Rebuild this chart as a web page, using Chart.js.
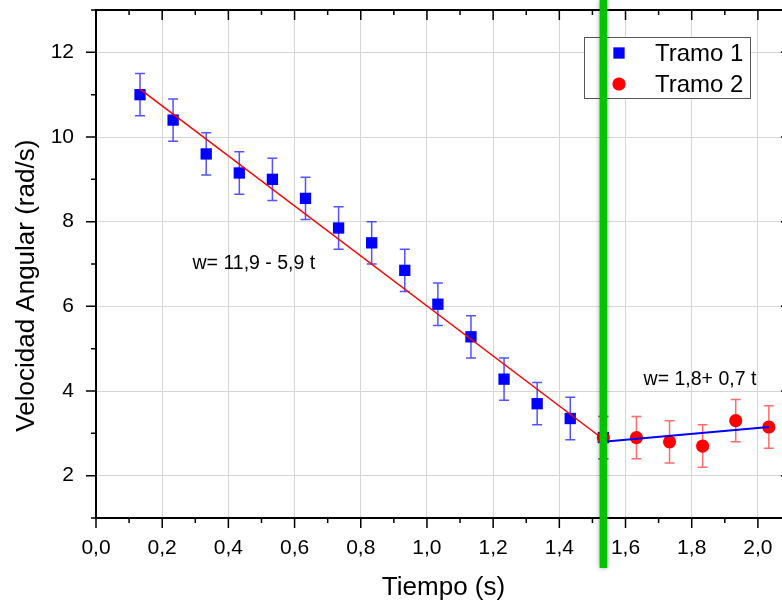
<!DOCTYPE html>
<html>
<head>
<meta charset="utf-8">
<script src="https://cdn.jsdelivr.net/npm/chart.js@4.4.1/dist/chart.umd.min.js"></script>
<style>
  html, body { margin: 0; padding: 0; background: #fff; overflow: hidden; }
  #wrap { width: 800px; height: 603px; }
</style>
</head>
<body>
<div id="wrap"><canvas id="chart" width="800" height="603"></canvas></div>
<script>
// Tramo 1 (blue squares)
const tramo1T = [0.133, 0.233, 0.333, 0.433, 0.533, 0.633, 0.733, 0.833, 0.933, 1.033, 1.133, 1.233, 1.333, 1.433, 1.533];
const tramo1W = [11.0, 10.4, 9.6, 9.15, 9.0, 8.55, 7.85, 7.5, 6.85, 6.05, 5.28, 4.28, 3.7, 3.35, 2.9];
const tramo1Err = [0.5, 0.5, 0.5, 0.5, 0.5, 0.5, 0.5, 0.5, 0.5, 0.5, 0.5, 0.5, 0.5, 0.5, 0.5];

// Tramo 2 (red circles)
const tramo2T = [1.533, 1.633, 1.733, 1.833, 1.933, 2.033];
const tramo2W = [2.9, 2.9, 2.8, 2.7, 3.3, 3.15];
const tramo2Err = [0.5, 0.5, 0.5, 0.5, 0.5, 0.5];

// fitted lines (end points)
const fit1T = [0.133, 1.533];
const fit1W = [11.13, 2.86];
const fit2T = [1.533, 2.033];
const fit2W = [2.8, 3.15];

const xTicks = [0, 0.2, 0.4, 0.6, 0.8, 1.0, 1.2, 1.4, 1.6, 1.8, 2.0];
const yTicks = [2, 4, 6, 8, 10, 12];
const splitT = 1.533;

const fitLabels = ['w= 11,9 - 5,9 t', 'w= 1,8+ 0,7 t'];
const fitLabelAt = [[0.477, 7.0], [1.825, 4.26]];

const FONT = "'Liberation Sans', Arial, sans-serif";
const pts = (xs, ys) => xs.map((x, i) => ({ x: x, y: ys[i] }));

const errorBars = {
    id: 'errorBars',
    beforeDatasetsDraw(chart) {
        const { ctx, scales: { x, y } } = chart;
        chart.data.datasets.forEach(ds => {
            if (!ds.errors) return;
            ctx.save();
            ctx.strokeStyle = ds.errorColor;
            ctx.lineWidth = 1.5;
            ctx.beginPath();
            ds.data.forEach((p, i) => {
                const px = x.getPixelForValue(p.x);
                const top = y.getPixelForValue(p.y + ds.errors[i]);
                const bot = y.getPixelForValue(p.y - ds.errors[i]);
                ctx.moveTo(px, top); ctx.lineTo(px, bot);
                ctx.moveTo(px - 5, top); ctx.lineTo(px + 5, top);
                ctx.moveTo(px - 5, bot); ctx.lineTo(px + 5, bot);
            });
            ctx.stroke();
            ctx.restore();
        });
    }
};

const frame = {
    id: 'frame',
    afterDatasetsDraw(chart) {
        const { ctx, chartArea: a, scales: { x, y } } = chart;
        ctx.save();
        ctx.strokeStyle = '#000';
        ctx.lineWidth = 2;
        ctx.beginPath();
        ctx.moveTo(a.left - 1, a.top);
        ctx.lineTo(a.right, a.top);
        ctx.lineTo(a.right, a.bottom);
        ctx.stroke();

        ctx.lineWidth = 1.5;
        ctx.beginPath();
        for (let i = 0; i <= 21; i++) {
            const px = x.getPixelForValue(i / 10);
            const len = i % 2 === 0 ? 10 : 5;
            ctx.moveTo(px, a.bottom); ctx.lineTo(px, a.bottom + len);
            ctx.moveTo(px, a.top); ctx.lineTo(px, a.top + len);
        }
        for (let w = 1; w <= 13; w++) {
            const py = y.getPixelForValue(w);
            const len = w % 2 === 0 ? 10 : 5;
            ctx.moveTo(a.left, py); ctx.lineTo(a.left - len, py);
            ctx.moveTo(a.right, py); ctx.lineTo(a.right - len, py);
        }
        ctx.stroke();
        ctx.restore();
    }
};

const fitText = {
    id: 'fitText',
    afterDatasetsDraw(chart) {
        const { ctx, scales: { x, y } } = chart;
        ctx.save();
        ctx.fillStyle = '#000';
        ctx.font = '19.5px ' + FONT;
        ctx.textAlign = 'center';
        ctx.textBaseline = 'middle';
        fitLabels.forEach((txt, i) => {
            ctx.fillText(txt, x.getPixelForValue(fitLabelAt[i][0]), y.getPixelForValue(fitLabelAt[i][1]));
        });
        ctx.restore();
    }
};

const boxLegend = {
    id: 'boxLegend',
    afterDraw(chart) {
        const { ctx } = chart;
        const bx = 584.5, by = 37.5, bw = 166, bh = 61;
        ctx.save();
        ctx.fillStyle = '#fff';
        ctx.fillRect(bx, by, bw, bh);
        ctx.strokeStyle = '#555';
        ctx.lineWidth = 1;
        ctx.strokeRect(bx, by, bw, bh);
        const items = chart.data.datasets.filter(d => d.errors);
        items.forEach((ds, i) => {
            const cy = by + 15.5 + i * 31;
            ctx.fillStyle = ds.backgroundColor;
            Chart.helpers.drawPoint(ctx, { pointStyle: ds.pointStyle, radius: ds.pointRadius, rotation: 0, borderWidth: 0 }, 619, cy);
            ctx.fillStyle = '#000';
            ctx.font = '24px ' + FONT;
            ctx.textAlign = 'left';
            ctx.textBaseline = 'middle';
            ctx.fillText(ds.label, 655, cy + 1);
        });
        ctx.restore();

        // vertical marker between both stretches
        const { chartArea: a, scales: { x } } = chart;
        const px = x.getPixelForValue(splitT);
        ctx.save();
        ctx.shadowColor = 'rgba(0,0,0,0.35)';
        ctx.shadowBlur = 5;
        ctx.strokeStyle = '#00c400';
        ctx.lineWidth = 7.5;
        ctx.beginPath();
        ctx.moveTo(px, 0);
        ctx.lineTo(px, a.bottom + 50);
        ctx.stroke();
        ctx.restore();
    }
};

new Chart(document.getElementById('chart').getContext('2d'), {
    type: 'scatter',
    data: {
        datasets: [
            {
                label: 'Tramo 1',
                data: pts(tramo1T, tramo1W),
                errors: tramo1Err,
                errorColor: 'rgba(40,40,255,0.8)',
                pointStyle: 'rect',
                pointRadius: 8,
                backgroundColor: '#0000ff',
                borderWidth: 0,
                order: 4
            },
            {
                label: 'Tramo 2',
                data: pts(tramo2T, tramo2W),
                errors: tramo2Err,
                errorColor: 'rgba(255,60,60,0.75)',
                pointStyle: 'circle',
                pointRadius: 6.6,
                backgroundColor: '#ff0000',
                borderWidth: 0,
                order: 3
            },
            {
                label: 'fit 1',
                data: pts(fit1T, fit1W),
                showLine: true,
                pointRadius: 0,
                borderColor: '#ff0000',
                borderWidth: 1.5,
                order: 2
            },
            {
                label: 'fit 2',
                data: pts(fit2T, fit2W),
                showLine: true,
                pointRadius: 0,
                borderColor: '#0000ff',
                borderWidth: 2,
                order: 1
            }
        ]
    },
    options: {
        responsive: false,
        animation: false,
        events: [],
        layout: { padding: { top: 10, right: 9, left: 0, bottom: 0 } },
        plugins: {
            legend: { display: false },
            tooltip: { enabled: false }
        },
        scales: {
            x: {
                type: 'linear',
                min: 0,
                max: 2.1,
                afterBuildTicks: scale => { scale.ticks = xTicks.map(v => ({ value: v })); },
                afterFit: scale => {
                    scale.height = 85;
                    scale.paddingLeft = 0;
                    scale.paddingRight = 0;
                },
                grid: { color: '#d6d6d6', lineWidth: 1, drawTicks: false },
                border: { color: '#000', width: 2 },
                ticks: {
                    color: '#000',
                    padding: 18,
                    maxRotation: 0,
                    font: { family: FONT, size: 21 },
                    callback: v => v.toFixed(1).replace('.', ',')
                },
                title: {
                    display: true,
                    text: 'Tiempo (s)',
                    color: '#000',
                    padding: { top: 0, bottom: 0 },
                    font: { family: FONT, size: 26 }
                }
            },
            y: {
                min: 1,
                max: 13,
                afterBuildTicks: scale => { scale.ticks = yTicks.map(v => ({ value: v })); },
                afterFit: scale => {
                    scale.width = 96;
                    scale.paddingTop = 0;
                    scale.paddingBottom = 0;
                },
                grid: { color: '#d6d6d6', lineWidth: 1, drawTicks: false },
                border: { color: '#000', width: 2 },
                ticks: {
                    color: '#000',
                    padding: 22,
                    font: { family: FONT, size: 21 },
                    callback: v => String(v)
                },
                title: {
                    display: true,
                    text: 'Velocidad Angular (rad/s)      ',
                    color: '#000',
                    padding: { top: 11, bottom: 0 },
                    font: { family: FONT, size: 26 }
                }
            }
        }
    },
    plugins: [errorBars, frame, fitText, boxLegend]
});
</script>
</body>
</html>
